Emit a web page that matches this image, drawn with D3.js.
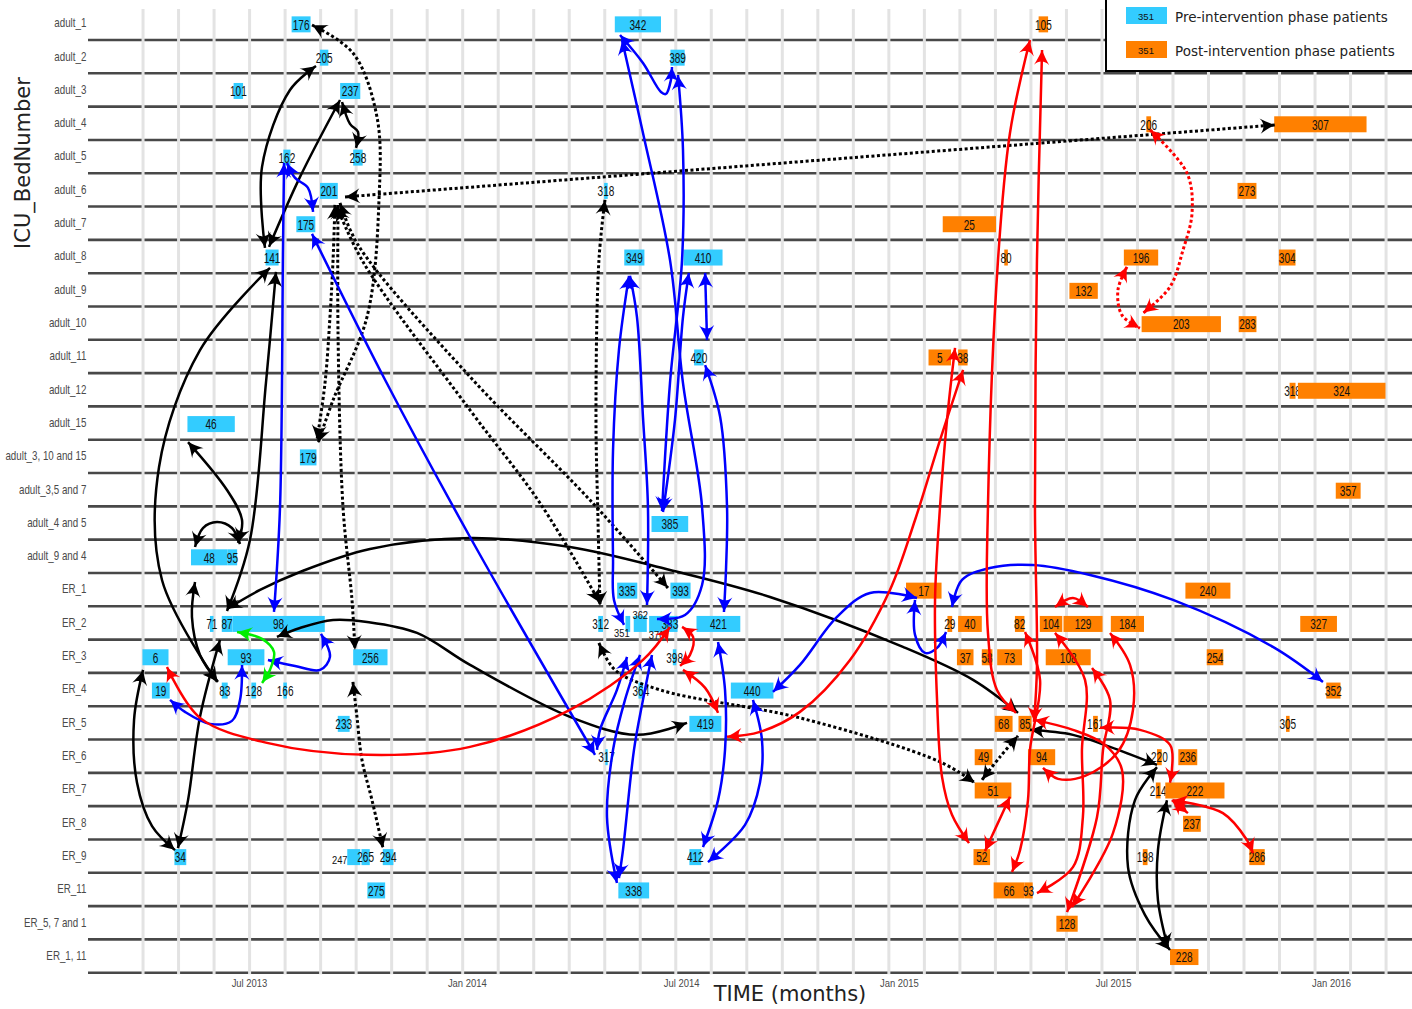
<!DOCTYPE html>
<html>
<head>
<meta charset="utf-8">
<script src="https://cdn.jsdelivr.net/npm/d3@7"></script>
<style>
  body { margin: 0; background: #fff; }
  svg { display: block; }
</style>
</head>
<body>
<svg id="chart" width="1412" height="1009"></svg>
<script>
// ICU / ER bed occupancy timeline with patient transfers between beds.

// Bed categories (rows, top to bottom)
const beds = ["adult_1","adult_2","adult_3","adult_4","adult_5","adult_6","adult_7","adult_8",
  "adult_9","adult_10","adult_11","adult_12","adult_15","adult_3, 10 and 15","adult_3,5 and 7",
  "adult_4 and 5","adult_9 and 4","ER_1","ER_2","ER_3","ER_4","ER_5","ER_6","ER_7","ER_8",
  "ER_9","ER_11","ER_5, 7 and 1","ER_1, 11"];

// Study day 0 = 15 Feb 2013
const studyStart = "2013-02-15";
const studyEndDay = 1118.4;

// Stays: [patient, bed, first day, last day]
const preStays = [
  ["176","adult_1",172,188], ["342","adult_1",445,484],
  ["205","adult_2",196,203], ["389","adult_2",492,504],
  ["101","adult_3",123,131], ["237","adult_3",213,230],
  ["162","adult_5",165,171], ["258","adult_5",224,232],
  ["201","adult_6",196,211], ["318","adult_6",436,439],
  ["175","adult_7",176,192],
  ["141","adult_8",150,161], ["349","adult_8",453,470], ["410","adult_8",503,536],
  ["420","adult_11",512,520],
  ["46","adult_15",84,124],
  ["179","adult_3, 10 and 15",179,193],
  ["385","adult_4 and 5",476,507],
  ["48","adult_9 and 4",87,118], ["95","adult_9 and 4",118,126],
  ["335","ER_1",447,464], ["393","ER_1",492,509],
  ["71","ER_2",103,106], ["87","ER_2",113,122], ["98","ER_2",122,200], ["312","ER_2",431,435],
  ["351","ER_2",454,458], ["362","ER_2",461,472], ["370","ER_2",474,485], ["383","ER_2",485,498],
  ["421","ER_2",514,551],
  ["6","ER_3",46,68], ["93","ER_3",118,149], ["256","ER_3",224,253], ["398","ER_3",494,497],
  ["19","ER_4",54,69], ["83","ER_4",113,118], ["128","ER_4",138,142], ["166","ER_4",165,168],
  ["364","ER_4",465,469], ["440","ER_4",543,579],
  ["233","ER_5",211,221], ["419","ER_5",508,535],
  ["317","ER_6",437,439],
  ["34","ER_9",73,83], ["247","ER_9",219,230], ["265","ER_9",231,238], ["294","ER_9",249,258],
  ["412","ER_9",508,518],
  ["275","ER_11",236,251], ["338","ER_11",448,474]
];
const postStays = [
  ["105","adult_1",803,811],
  ["206","adult_4",894,898], ["307","adult_4",1002,1080],
  ["273","adult_6",971,987],
  ["25","adult_7",722,767],
  ["80","adult_8",774,777], ["196","adult_8",875,904], ["304","adult_8",1006,1020],
  ["132","adult_9",829,853],
  ["203","adult_10",890,957], ["283","adult_10",972,987],
  ["5","adult_11",710,729], ["38","adult_11",735,743],
  ["318","adult_12",1015,1020], ["324","adult_12",1022,1096],
  ["357","adult_3,5 and 7",1054,1075],
  ["17","ER_1",691,721], ["240","ER_1",927,965],
  ["29","ER_2",726,730], ["40","ER_2",735,755], ["82","ER_2",783,791], ["104","ER_2",804,823],
  ["129","ER_2",824,857], ["184","ER_2",864,892], ["327","ER_2",1024,1055],
  ["37","ER_3",734,748], ["58","ER_3",755,764], ["73","ER_3",768,789], ["108","ER_3",809,847],
  ["254","ER_3",945,959],
  ["352","ER_4",1046,1058],
  ["68","ER_5",766,781], ["85","ER_5",786,797], ["161","ER_5",849,853], ["305","ER_5",1012,1015],
  ["49","ER_6",749,764], ["94","ER_6",794,817], ["220","ER_6",903,907], ["236","ER_6",921,937],
  ["51","ER_7",749,780], ["214","ER_7",902,906], ["222","ER_7",910,960],
  ["237","ER_8",925,940],
  ["52","ER_9",748,762], ["198","ER_9",891,895], ["286","ER_9",981,994],
  ["66","ER_11",765,791], ["93","ER_11",791,798],
  ["128","ER_5, 7 and 1",818,836],
  ["228","ER_1, 11",914,938]
];

// Axis tick dates
const tickLabels = ["2013-07-01","2014-01-01","2014-07-01","2015-01-01","2015-07-01","2016-01-01"];

// Transfers: routes as [study day, row index] waypoints
const preTransfers = [
  [[449.4,0.35],[468.8,1.19],[484.0,2.06],[488.2,2.12],[492.4,1.70],[493.3,1.31]],
  [[451.1,0.50],[468.8,3.29],[491.6,7.10],[502.6,10.80],[518.7,14.52],[518.7,16.86],[504.3,17.76],[480.6,17.88]],
  [[498.4,1.55],[502.6,3.80],[501.8,7.10],[491.6,10.80],[484.9,14.64]],
  [[507.6,7.49],[502.6,8.81],[495.8,11.91],[485.7,14.67]],
  [[521.3,7.49],[522.9,9.51]],
  [[521.3,10.26],[534.0,11.82],[539.8,14.52],[539.0,16.32],[537.2,17.67]],
  [[457.0,7.58],[448.5,9.80],[443.5,12.81],[443.5,16.11],[444.3,17.31],[452.8,18.06]],
  [[457.8,7.58],[463.7,8.81],[468.8,11.82],[473.0,14.52],[472.2,17.46]],
  [[455.3,19.02],[446.8,20.01],[432.5,21.21],[430.0,21.81]],
  [[466.3,18.96],[453.6,20.31],[443.5,21.81],[438.4,23.83],[446.8,25.81]],
  [[476.4,18.96],[468.8,20.31],[461.2,21.81],[451.9,24.82],[448.5,25.66]],
  [[189.2,6.32],[250.9,10.70],[322.7,15.42],[428.3,21.96]],
  [[165.6,4.19],[164.7,6.80],[162.2,14.52],[157.1,17.67]],
  [[168.1,4.19],[174.9,4.64],[185.8,4.94],[190.1,5.66]],
  [[152.0,19.11],[174.9,19.29],[196.0,19.41],[204.4,19.02],[196.8,18.33]],
  [[130.1,19.26],[128.4,20.31],[121.6,20.94],[103.1,21.03],[81.9,20.67],[69.3,20.31]],
  [[578.6,20.07],[601.4,19.26],[632.7,17.82],[660.6,17.10],[700.3,17.25]],
  [[698.6,17.31],[698.6,18.36],[707.0,18.90],[717.2,18.75],[724.8,18.27]],
  [[729.8,17.52],[738.3,16.71],[761.9,16.35],[798.2,16.26],[846.4,16.56],[916.5,17.31],[1000.9,18.72],[1043.2,19.77]],
  [[561.7,20.31],[569.3,21.51],[567.6,22.80],[555.0,24.06],[523.7,25.18]],
  [[532.2,18.57],[538.1,20.01],[538.1,21.81],[532.2,23.32],[519.5,24.73]]
];
const postTransfers = [
  [[66.7,19.32],[94.6,20.85],[151.2,21.60],[235.7,21.96],[322.7,21.72],[407.1,20.61],[468.8,19.11],[491.6,18.12]],
  [[501.8,18.12],[511.1,18.42],[508.5,18.96],[500.1,19.29]],
  [[502.6,19.41],[521.3,19.95],[532.2,20.70]],
  [[539.8,21.42],[567.6,21.27],[601.4,20.67],[643.7,19.11],[677.4,17.01],[698.6,14.91],[719.7,12.51],[739.2,10.40]],
  [[732.4,9.74],[725.6,11.91],[719.7,14.52],[715.5,17.31],[717.2,20.31],[721.4,22.62],[729.8,23.76],[744.2,24.61]],
  [[778.8,23.22],[767.8,24.07],[757.7,24.85]],
  [[795.7,0.50],[778.8,3.29],[768.7,7.10],[760.2,14.52],[760.2,18.30],[767.8,20.01],[783.9,20.70]],
  [[805.9,0.80],[801.6,7.10],[799.9,14.52],[801.6,19.32],[799.1,20.97]],
  [[791.5,18.27],[804.2,19.71],[795.7,21.81],[794.0,23.32],[787.3,24.82],[780.5,25.48]],
  [[816.8,18.30],[842.2,19.71],[839.6,21.81],[840.4,23.83],[832.0,25.33],[801.6,26.11]],
  [[863.3,18.30],[880.2,19.26],[882.7,20.61],[870.0,21.87],[842.2,22.59],[819.4,22.68],[806.7,22.35]],
  [[799.1,20.91],[832.0,21.21],[859.1,21.66],[873.4,22.41],[865.8,24.31],[831.2,26.53]],
  [[848.1,19.35],[863.3,20.31],[857.4,21.81],[852.3,23.83],[827.0,26.68]],
  [[854.8,21.15],[888.6,21.21],[914.0,21.66],[915.6,22.41],[914.0,22.80]],
  [[915.6,23.32],[929.1,23.71]],
  [[916.5,23.32],[958.7,23.71],[979.0,24.52],[984.1,24.91]],
  [[816.8,17.52],[832.0,17.25],[844.7,17.52]]
];
const postDottedTransfers = [
  [[897.1,3.20],[928.3,4.49],[932.6,5.69],[925.0,6.80],[914.0,7.91],[891.2,8.70]],
  [[877.6,7.31],[870.0,8.01],[873.4,8.76],[888.6,9.15]]
];
const crossTransfers = [
  [[192.6,1.28],[170.6,2.00],[147.0,4.31],[149.5,6.74]],
  [[212.9,2.30],[179.1,4.61],[152.9,6.71]],
  [[214.6,2.36],[221.3,3.02],[228.1,3.26],[226.4,3.74]],
  [[153.7,7.34],[94.6,9.81],[60.0,13.32],[62.5,16.71],[109.0,19.77]],
  [[158.8,7.46],[150.3,10.80],[136.8,15.51],[117.4,17.64]],
  [[84.5,12.57],[117.4,14.01],[130.1,14.91],[126.7,15.60]],
  [[90.4,15.72],[97.1,15.15],[109.0,14.97],[121.6,15.15],[128.4,15.63]],
  [[90.4,16.77],[87.8,17.82],[94.6,18.96],[109.8,19.77]],
  [[111.5,18.51],[94.6,20.82],[84.5,23.32],[76.0,24.76]],
  [[46.5,19.41],[38.9,20.91],[41.4,22.80],[54.1,24.10],[73.5,24.82]],
  [[117.4,17.58],[145.3,17.01],[179.1,16.47],[238.2,15.78],[322.7,15.45],[407.1,15.72],[491.6,16.41],[576.1,17.22],[688.4,18.72],[747.6,19.71],[785.6,20.70]],
  [[159.6,18.42],[179.1,18.15],[207.0,17.91],[235.7,17.97],[277.9,18.30],[322.7,19.26],[407.1,20.82],[463.7,21.36],[506.0,21.00]],
  [[795.7,21.21],[832.0,21.36],[863.3,21.72],[903.0,22.26]],
  [[903.0,22.33],[884.4,23.32],[878.5,25.33],[892.9,26.77],[914.0,27.82]],
  [[911.4,23.32],[903.8,24.82],[903.8,26.32],[912.3,27.76]]
];
const crossDottedTransfers = [
  [[189.2,0.05],[223.8,0.89],[244.1,2.81],[245.8,5.30],[235.7,8.81],[207.0,11.31],[194.3,12.60]],
  [[208.6,5.45],[207.0,7.10],[204.4,8.81],[200.2,10.80],[193.4,12.51]],
  [[211.2,5.45],[211.2,9.30],[215.4,14.52],[223.0,17.31],[225.5,18.81]],
  [[212.9,5.39],[228.1,6.65],[322.7,10.61],[424.0,14.31],[489.9,16.95]],
  [[210.3,5.51],[232.3,7.16],[322.7,11.61],[381.8,14.40],[432.5,17.40]],
  [[436.7,5.30],[431.6,7.10],[429.1,11.82],[430.8,14.91],[432.5,17.49]],
  [[431.6,18.60],[445.2,19.41],[483.2,20.01],[601.4,20.85],[719.7,22.17],[749.2,22.80]],
  [[755.2,22.71],[770.4,22.02],[785.6,21.39]],
  [[223.8,19.77],[227.2,20.82],[231.4,22.11],[239.9,23.32],[249.2,24.76]],
  [[217.1,5.21],[1002.7,3.05]]
];
const sameDayTransfers = [
  [[125.9,18.27],[147.0,18.48],[157.1,18.87],[153.7,19.41],[147.0,19.80]]
];

// ---- layout & styles ----
const W = 1412, H = 1009;
const margin = { left: 88, right: 0, top: 6.7, bottom: 36.3 };
const PRE = "#33ccff", POST = "#ff8000";
const sans = "'Liberation Sans', Arial, sans-serif";
const wide = "'DejaVu Sans', Verdana, sans-serif";

// Labels drawn beside (not on) their bar
const sideLabels = { "247": { dx: -14, dy: 3 }, "351": { dx: -6, dy: 9 }, "362": { dx: 0, dy: -9 }, "370": { dx: 1, dy: 11 } };

const t0 = Date.parse(studyStart + "T00:00:00Z");
const dayToDate = d => new Date(t0 + d * 864e5);

const x = d3.scaleUtc().domain([dayToDate(0), dayToDate(studyEndDay)]).range([margin.left, W - margin.right]);
const y = d3.scaleBand().domain(beds).range([margin.top, H - margin.bottom]);
const rowCenter = b => y(b) + y.bandwidth() / 2;
const rowPos = d3.scaleLinear().domain([0, beds.length - 1]).range([rowCenter(beds[0]), rowCenter(beds[beds.length - 1])]);

const svg = d3.select("#chart");

// horizontal bed separators
svg.append("g").selectAll("line").data(beds).join("line")
  .attr("x1", margin.left).attr("x2", W)
  .attr("y1", d => y(d) + y.bandwidth()).attr("y2", d => y(d) + y.bandwidth())
  .attr("stroke", "#484848").attr("stroke-width", 2.6);

// vertical 30-day grid
const gridDays = d3.range(36).map(k => 46.5 + 30 * k);
svg.append("g").selectAll("line").data(gridDays).join("line")
  .attr("x1", d => x(dayToDate(d))).attr("x2", d => x(dayToDate(d)))
  .attr("y1", 9).attr("y2", H - margin.bottom + 1.5)
  .attr("stroke", "#e3e3e3").attr("stroke-width", 3);

// axes
const xAxis = d3.axisBottom(x)
  .tickValues(tickLabels.map(s => new Date(Date.parse(s + "T00:00:00Z"))))
  .tickFormat(d3.utcFormat("%b %Y")).tickSize(0).tickPadding(5);
const gx = svg.append("g").attr("transform", `translate(0,${H - margin.bottom + 2})`).call(xAxis);
gx.select(".domain").remove();
gx.selectAll("text").attr("font-family", sans).attr("font-size", 11)
  .attr("transform", "scale(0.86,1)").attr("fill", "#4a4a4a");

const yAxis = d3.axisLeft(y).tickSize(0).tickPadding(2);
const gy = svg.append("g").attr("transform", `translate(${margin.left},0)`).call(yAxis);
gy.select(".domain").remove();
gy.selectAll("text").attr("font-family", sans).attr("font-size", 12)
  .attr("transform", "scale(0.815,1)").attr("fill", "#4a4a4a");

// stays
const stays = [
  ...preStays.map(s => ({ id: s[0], bed: s[1], start: s[2], end: s[3], phase: "pre" })),
  ...postStays.map(s => ({ id: s[0], bed: s[1], start: s[2], end: s[3], phase: "post" }))
];
const barH = 16;
const isSide = d => d.phase === "pre" && sideLabels[d.id];
const sg = svg.append("g").selectAll("g").data(stays).join("g");
sg.append("rect")
  .attr("x", d => x(dayToDate(d.start)))
  .attr("width", d => Math.max(1, x(dayToDate(d.end)) - x(dayToDate(d.start))))
  .attr("y", d => rowCenter(d.bed) - barH / 2 + 1)
  .attr("height", barH)
  .attr("fill", d => d.phase === "pre" ? PRE : POST);
sg.append("text")
  .attr("transform", d => {
    const cx = (x(dayToDate(d.start)) + x(dayToDate(d.end))) / 2;
    const cy = rowCenter(d.bed) + 1;
    const off = isSide(d);
    return off ? `translate(${cx + off.dx},${cy + off.dy}) scale(0.85,1)` : `translate(${cx},${cy}) scale(0.67,1)`;
  })
  .attr("text-anchor", "middle").attr("dominant-baseline", "central")
  .attr("font-family", sans)
  .attr("font-size", d => isSide(d) ? 11 : 15)
  .attr("fill", "#111")
  .text(d => d.id);

// transfers
const route = d3.line()
  .x(p => x(dayToDate(p[0])))
  .y(p => rowPos(p[1]))
  .curve(d3.curveCatmullRom.alpha(0.5));
const headShape = "M0,0 C-4,-1.6 -10,-4.6 -15,-7.6 C-10.5,-3 -10.5,3 -15,7.6 C-10,4.6 -4,1.6 0,0Z";
const arrows = svg.append("g");
function drawTransfers(list, color, width, dash) {
  list.forEach(pts => {
    const p = arrows.append("path").attr("d", route(pts))
      .attr("fill", "none").attr("stroke", color).attr("stroke-width", width)
      .attr("stroke-dasharray", dash || null);
    const node = p.node(), len = node.getTotalLength();
    [[len, Math.max(0, len - 6)], [0, Math.min(len, 6)]].forEach(([a, b]) => {
      const tip = node.getPointAtLength(a), back = node.getPointAtLength(b);
      const ang = Math.atan2(tip.y - back.y, tip.x - back.x) * 180 / Math.PI;
      arrows.append("path").attr("d", headShape)
        .attr("transform", `translate(${tip.x},${tip.y}) rotate(${ang})`)
        .attr("fill", color);
    });
  });
}
drawTransfers(crossDottedTransfers, "#000", 3, "3,2.5");
drawTransfers(postDottedTransfers, "#ff0000", 3, "3,2.5");
drawTransfers(crossTransfers, "#000", 2.5);
drawTransfers(preTransfers, "#0000ff", 2.5);
drawTransfers(postTransfers, "#ff0000", 2.5);
drawTransfers(sameDayTransfers, "#00ee00", 2.5);

// legend
const lg = svg.append("g");
lg.append("rect").attr("x", 1106).attr("y", -2).attr("width", 320).attr("height", 73)
  .attr("fill", "#fff").attr("stroke", "#000").attr("stroke-width", 2);
const legendItems = [
  { name: "Pre-intervention phase patients", color: PRE },
  { name: "Post-intervention phase patients", color: POST }
];
const li = lg.selectAll("g").data(legendItems).join("g")
  .attr("transform", (d, i) => `translate(1126,${7 + i * 34})`);
li.append("rect").attr("width", 41).attr("height", 17).attr("fill", d => d.color);
li.append("text").attr("x", 20).attr("y", 9).attr("text-anchor", "middle")
  .attr("dominant-baseline", "central").attr("font-family", sans)
  .attr("font-size", 9.5).attr("fill", "#111").text("351");
li.append("text").attr("x", 49).attr("y", 9.5).attr("dominant-baseline", "central")
  .attr("font-family", wide).attr("font-size", 13.5).attr("fill", "#222").text(d => d.name);

// titles
svg.append("text").attr("x", 790).attr("y", 1001).attr("text-anchor", "middle")
  .attr("font-family", wide).attr("font-size", 21).attr("fill", "#222").text("TIME (months)");
svg.append("text").attr("transform", "translate(23,163) rotate(-90)")
  .attr("text-anchor", "middle").attr("dominant-baseline", "central")
  .attr("font-family", wide).attr("font-size", 21).attr("fill", "#222").text("ICU_BedNumber");
</script>
</body>
</html>
